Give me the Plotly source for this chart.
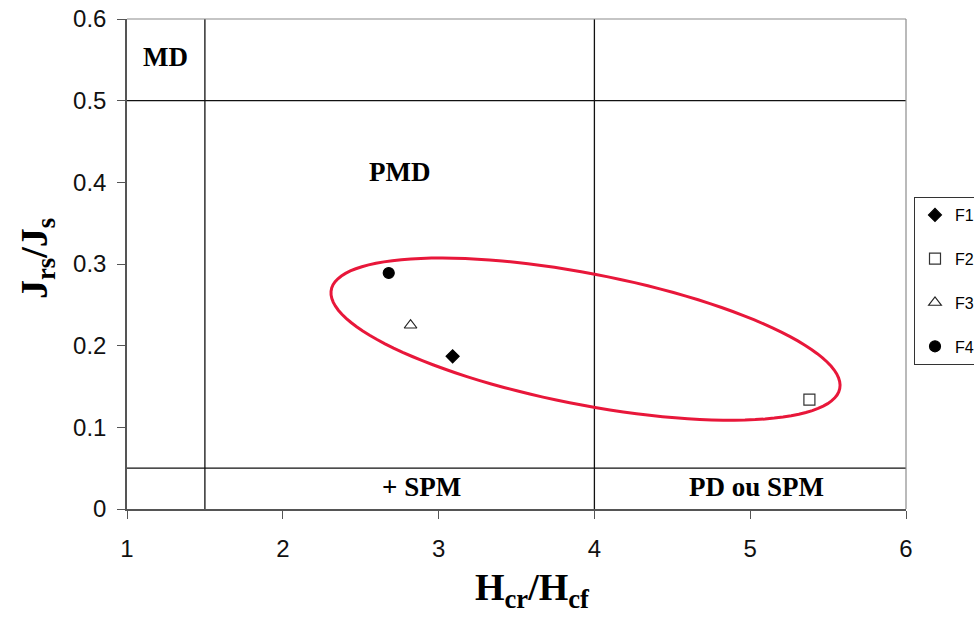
import numpy as np
import plotly.graph_objects as go

# ---- data ----
series_names = ["F1", "F2", "F3", "F4"]
hcr_hcf = [3.09, 5.38, 2.82, 2.68]
jrs_js = [0.187, 0.134, 0.225, 0.289]

x_tick_vals = [1, 2, 3, 4, 5, 6]
x_tick_text = ["1", "2", "3", "4", "5", "6"]
y_tick_vals = [0, 0.1, 0.2, 0.3, 0.4, 0.5, 0.6]
y_tick_text = ["0", "0.1", "0.2", "0.3", "0.4", "0.5", "0.6"]

x_boundaries = [1.5, 4.0]
y_boundaries = [0.05, 0.5]

region_labels = ["MD", "PMD", "+ SPM", "PD ou SPM"]
region_x = [1.25, 2.75, 2.89, 5.04]
region_y = [0.553, 0.413, 0.027, 0.027]

# ---- styling / layout ----
W, H = 974, 619
PL, PR, PT, PB = 127, 906, 19, 509   # target plot box on screen
ML, MT = PL, PT
plot_w = PR - PL
plot_h = PB - PT
MR = W - ML - plot_w
MB = H - MT - plot_h
X_RANGE = [1, 6]
Y_RANGE = [0, 0.6]
px_x = plot_w / (X_RANGE[1] - X_RANGE[0])
px_y = plot_h / (Y_RANGE[1] - Y_RANGE[0])


def paper_x(px):
    return (px - PL) / plot_w


def paper_y(py):
    return (PB - py) / plot_h


symbols = ["diamond", "square-open", "triangle-up-open", "circle"]
msizes = [10, 11, 11, 11]
mcolors = ["#000000", "#333333", "#222222", "#000000"]

fig = go.Figure()
for name, xv, yv, sym, ms, mc in zip(series_names, hcr_hcf, jrs_js, symbols, msizes, mcolors):
    fig.add_trace(go.Scatter(
        x=[xv], y=[yv], mode="markers", name=name, legendgroup=name,
        marker=dict(symbol=sym, size=ms, color=mc, line=dict(color=mc, width=1.2)),
    ))

shapes = []
for xb in x_boundaries:
    shapes.append(dict(type="line", xref="x", yref="y", x0=xb, x1=xb,
                       y0=Y_RANGE[0], y1=Y_RANGE[1], line=dict(color="#111", width=1.3)))
for yb in y_boundaries:
    shapes.append(dict(type="line", xref="x", yref="y", x0=X_RANGE[0], x1=X_RANGE[1],
                       y0=yb, y1=yb, line=dict(color="#111", width=1.3)))
# light grey top / right frame
shapes.append(dict(type="line", xref="paper", yref="paper", x0=0, x1=1, y0=1, y1=1,
                   line=dict(color="#8c8c8c", width=1.2)))
shapes.append(dict(type="line", xref="paper", yref="paper", x0=1, x1=1, y0=0, y1=1,
                   line=dict(color="#8c8c8c", width=1.2)))

# red ellipse (highlight), defined in screen pixels then mapped to data
cx, cy = 3.943, 0.208
a_px, b_px, theta = 259, 65.5, np.deg2rad(11)
t = np.linspace(0, 2 * np.pi, 120)
ex_px = a_px * np.cos(t) * np.cos(theta) - b_px * np.sin(t) * np.sin(theta)
ey_px = a_px * np.cos(t) * np.sin(theta) + b_px * np.sin(t) * np.cos(theta)
ex = cx + ex_px / px_x
ey = cy - ey_px / px_y
path = "M " + " L ".join(f"{a:.4f},{b:.5f}" for a, b in zip(ex, ey)) + " Z"
shapes.append(dict(type="path", xref="x", yref="y", path=path,
                   line=dict(color="#E8173A", width=3)))

annotations = []
for lab, lx, ly in zip(region_labels, region_x, region_y):
    annotations.append(dict(x=lx, y=ly, xref="x", yref="y", text=f"<b>{lab}</b>",
                            showarrow=False, font=dict(family="Liberation Serif", size=27, color="#000")))

annotations.append(dict(x=paper_x(532), y=paper_y(590), xref="paper", yref="paper",
                        text="<b>H<sub>cr</sub>/H<sub>cf</sub></b>", showarrow=False,
                        xanchor="center", yanchor="middle",
                        font=dict(family="Liberation Serif", size=38, color="#000")))
annotations.append(dict(x=paper_x(37), y=paper_y(259), xref="paper", yref="paper",
                        text="<b>J<sub>rs</sub>/J<sub>s</sub></b>", showarrow=False, textangle=-90,
                        xanchor="center", yanchor="middle",
                        font=dict(family="Liberation Serif", size=38, color="#000")))

axis_common = dict(showgrid=False, zeroline=False, showline=True, linecolor="#555",
                   linewidth=1.5, ticks="outside", ticklen=8, tickcolor="#555", tickwidth=1.2,
                   tickfont=dict(family="Liberation Sans", size=24, color="#111"), mirror=False,
                   ticklabeloverflow="allow")

fig.update_layout(
    width=W, height=H,
    margin=dict(l=ML, r=MR, t=MT, b=MB, autoexpand=False),
    paper_bgcolor="white", plot_bgcolor="white",
    xaxis=dict(range=X_RANGE, tickvals=x_tick_vals, ticktext=x_tick_text,
               ticklabelstandoff=9, **axis_common),
    yaxis=dict(range=Y_RANGE, tickvals=y_tick_vals, ticktext=y_tick_text,
               ticklabelstandoff=6, **axis_common),
    shapes=shapes, annotations=annotations,
    showlegend=True,
    legend=dict(x=paper_x(914), y=paper_y(197), xanchor="left", yanchor="top",
                bordercolor="#333", borderwidth=1, bgcolor="white",
                font=dict(family="Liberation Sans", size=16, color="#000"),
                tracegroupgap=20, itemwidth=30),
)

fig.write_html("out.html", config={"displayModeBar": False},
               post_script="document.body.style.margin='0px';")
